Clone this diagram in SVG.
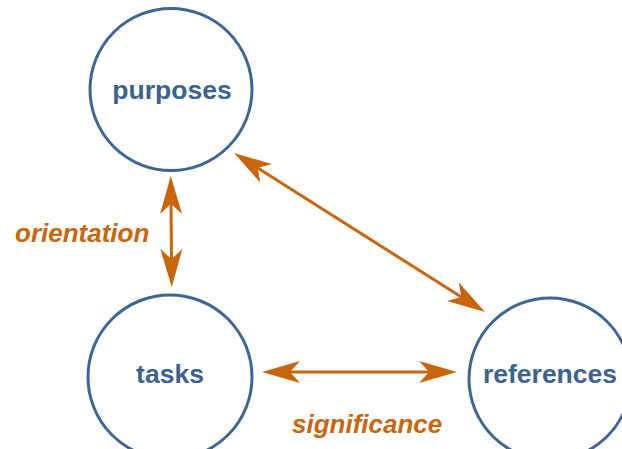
<svg xmlns="http://www.w3.org/2000/svg" width="622" height="449" viewBox="0 0 622 449">
<style>
.node circle{fill:#fff;stroke:#3e6694;stroke-width:3}
.node text{font-family:"Liberation Sans",Arial,sans-serif;font-weight:bold;font-size:26.5px;fill:#3c6290;text-anchor:middle}
.lbl{font-family:"Liberation Sans",Arial,sans-serif;font-weight:bold;font-style:italic;font-size:26px;fill:#c7660d}
.conn line{stroke:#c7660d;stroke-width:3;marker-start:url(#ah);marker-end:url(#ah)}
</style>
<defs>
<marker id="ah" markerUnits="userSpaceOnUse" markerWidth="40" markerHeight="24" viewBox="0 0 40 24" refX="12" refY="12" orient="auto-start-reverse">
<path d="M40,12 L2,1 L12,12 L2,23 Z" fill="#c7660d"/>
</marker>
</defs>
<rect width="622" height="449" fill="#fff"/>
<g id="purposes" class="node"><circle cx="171" cy="89.5" r="81"/><text x="172" y="99">purposes</text></g>
<g id="tasks" class="node"><circle cx="170" cy="377" r="82"/><text x="170" y="383">tasks</text></g>
<g id="references" class="node"><circle cx="550" cy="379" r="81"/><text x="550" y="383">references</text></g>
<g id="connectors" class="conn">
<line x1="171" y1="204" x2="171.5" y2="259"/>
<line x1="257.7" y1="168" x2="461.3" y2="297"/>
<line x1="290" y1="372" x2="429" y2="372"/>
</g>
<text class="lbl" x="15" y="242">orientation</text>
<text class="lbl" x="292" y="433">significance</text>
</svg>
